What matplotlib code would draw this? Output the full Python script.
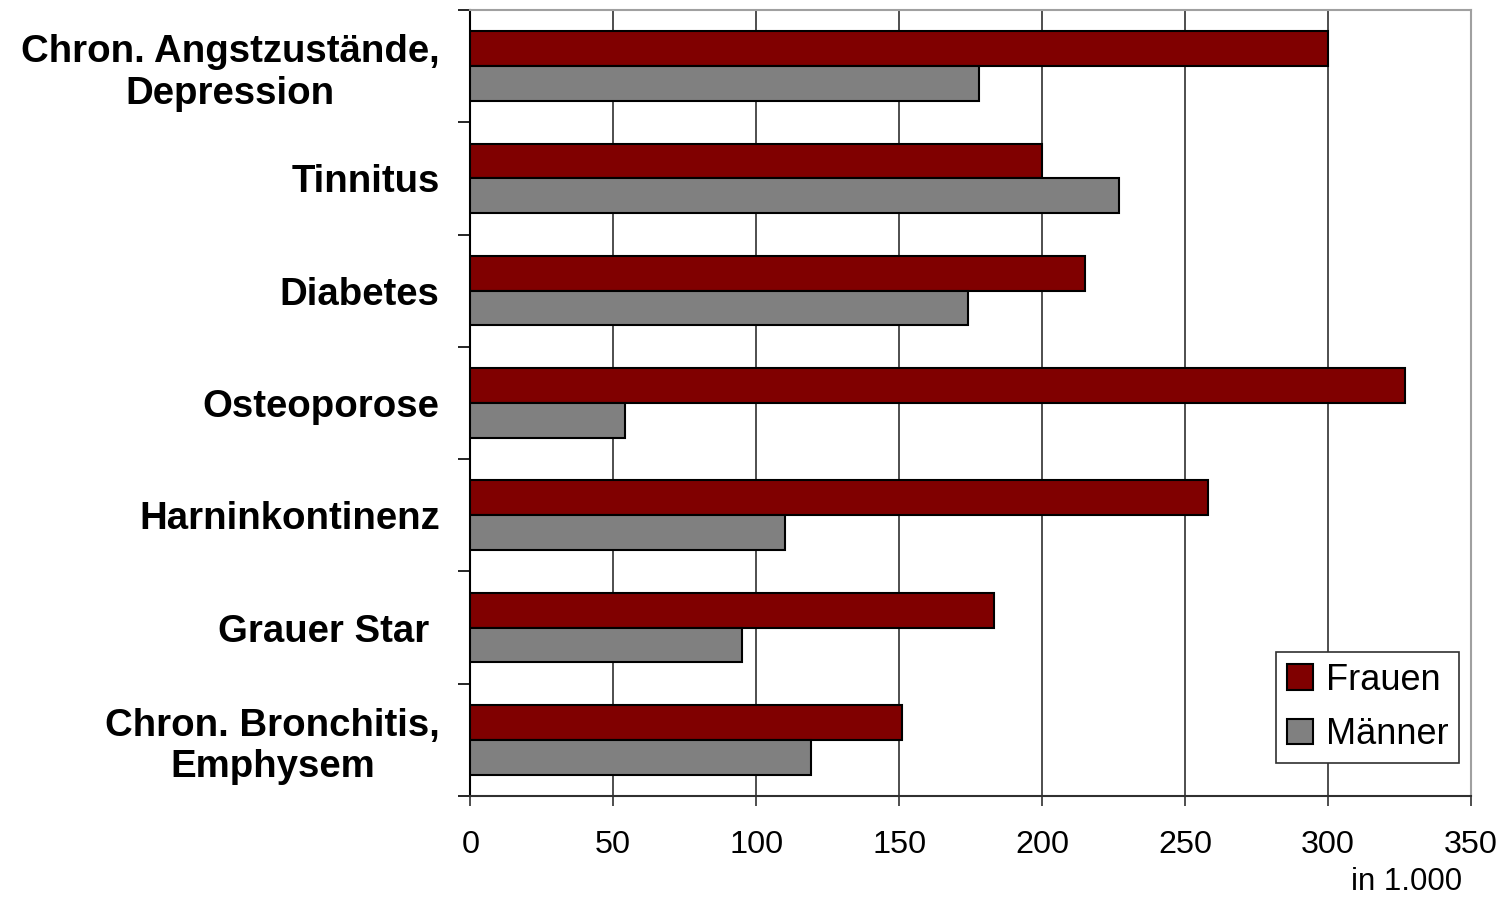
import matplotlib
matplotlib.use("Agg")
import matplotlib.pyplot as plt
import numpy as np

plt.rcParams['font.family'] = ['Liberation Sans', 'DejaVu Sans']

# Krankheiten (von oben nach unten) und Fallzahlen in 1.000
diseases = ["Chron. Angstzustände,\nDepression", "Tinnitus", "Diabetes", "Osteoporose",
            "Harninkontinenz", "Grauer Star ", "Chron. Bronchitis,\nEmphysem"]
frauen = [300, 200, 215, 327, 258, 183, 151]
maenner = [178, 227, 174, 54, 110, 95, 119]

col_f = "#800000"
col_m = "#808080"
bar_h = 0.31

fig = plt.figure(figsize=(15.03, 8.97), dpi=100)
ax = fig.add_axes([0.3129, 0.1126, 0.6658, 0.8763])

y = np.arange(len(diseases))
ax.barh(y - bar_h/2, frauen, height=bar_h, color=col_f, edgecolor='black', linewidth=1.5,
        label='Frauen', zorder=3)
ax.barh(y + bar_h/2, maenner, height=bar_h, color=col_m, edgecolor='black', linewidth=1.5,
        label='Männer', zorder=3)

ax.set_xlim(0, 350)
ax.set_ylim(len(diseases) - 0.5, -0.5)

# vertical grid
for gx in range(50, 350, 50):
    ax.axvline(gx, color='#303030', linewidth=1.2, zorder=1)

ax.set_xticks(range(0, 351, 50))
ax.tick_params(axis='x', direction='out', length=7.5, width=1.2, color='#303030',
               labelsize=23.3, pad=17)

ax.set_yticks(y)
ax.set_yticklabels(diseases, fontsize=27.6, fontweight='bold')
for t in ax.get_yticklabels():
    t.set_multialignment('center')
ax.tick_params(axis='y', which='major', length=0, pad=22)
ax.set_yticks(np.arange(-0.5, len(diseases), 1.0), minor=True)
ax.tick_params(axis='y', which='minor', direction='out', length=9, width=1.2, color='black')

ax.spines['left'].set_color('black')
ax.spines['left'].set_linewidth(1.5)
ax.spines['bottom'].set_color('#303030')
ax.spines['bottom'].set_linewidth(1.5)
ax.spines['top'].set_color('#a0a0a0')
ax.spines['top'].set_linewidth(1.5)
ax.spines['right'].set_color('#a0a0a0')
ax.spines['right'].set_linewidth(1.5)

leg = ax.legend(loc='lower right', bbox_to_anchor=(0.988, 0.042), borderaxespad=0,
                fontsize=26, fancybox=False, framealpha=1, edgecolor='#303030',
                handlelength=0.72, handleheight=0.7, handletextpad=0.35,
                labelspacing=0.54, borderpad=0.3)
leg.get_frame().set_linewidth(1.2)

fig.text(1462/1503, 1 - 882/897, "in 1.000", ha='right', va='center', fontsize=22.5)

fig.savefig("out.png", dpi=100)
